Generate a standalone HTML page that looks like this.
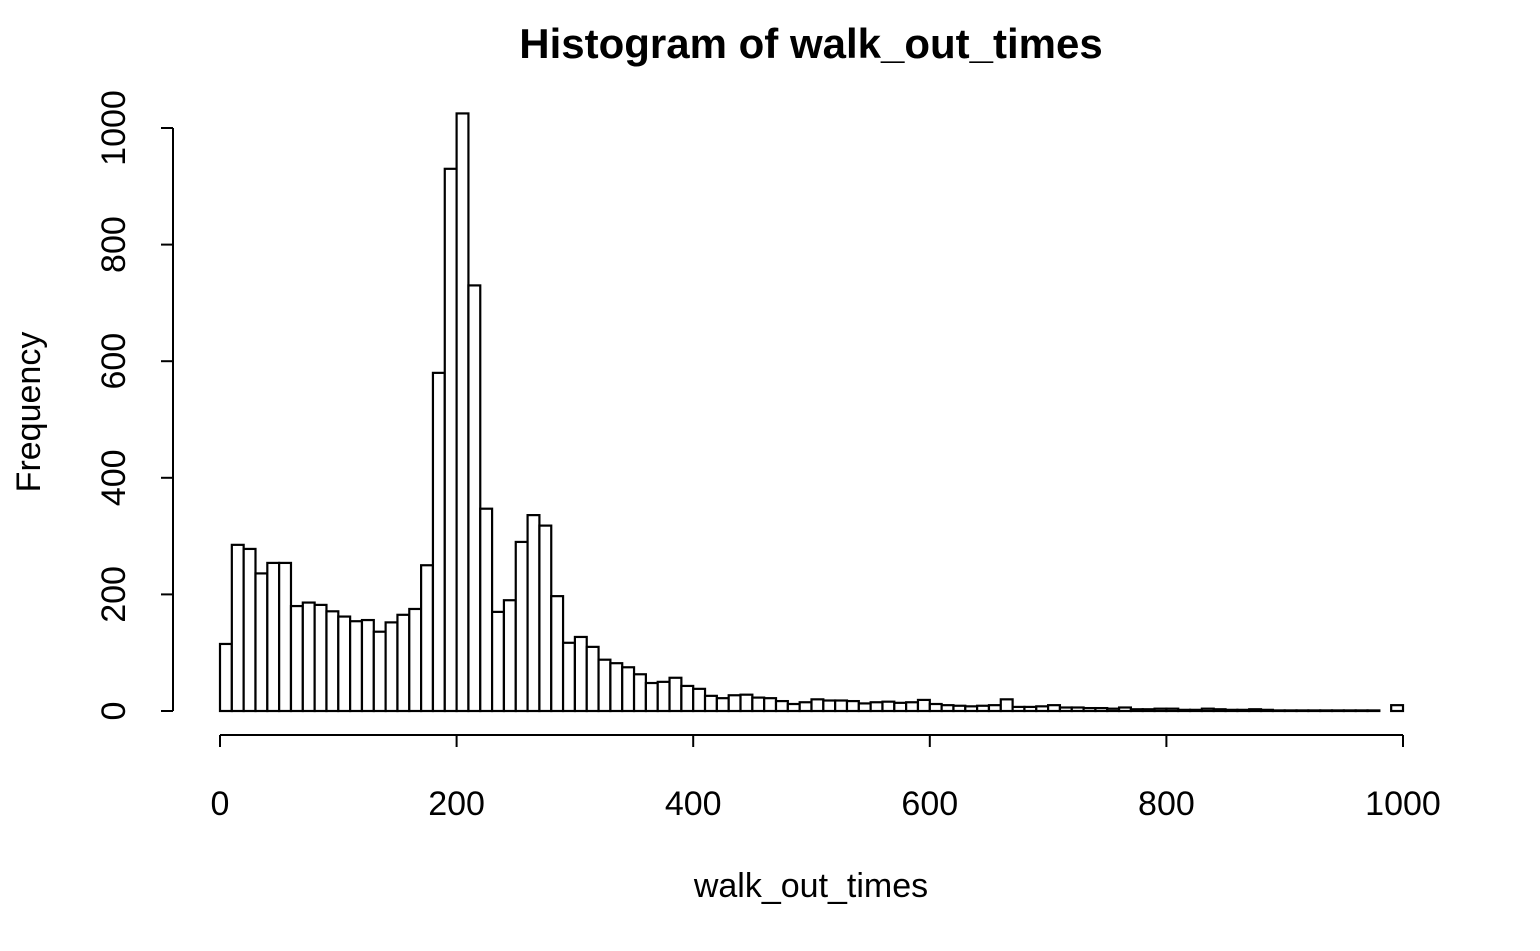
<!DOCTYPE html>
<html><head><meta charset="utf-8"><style>
body{margin:0;background:#fff}
svg{display:block;font-family:"Liberation Sans",Arial,sans-serif}
</style></head><body>
<svg id="c" width="1540" height="951">
<text x="811" y="58" text-anchor="middle" font-size="42" font-weight="bold">Histogram of walk_out_times</text>
<text x="811" y="897" text-anchor="middle" font-size="34">walk_out_times</text>
<text transform="translate(40,412) rotate(-90)" text-anchor="middle" font-size="34">Frequency</text>
<g id="bars"></g>
<g id="xaxis"></g>
<g id="yaxis"></g>
</svg>
<script>
const binStart = 0;
const binWidth = 10;
const counts = [115,285,278,236,254,254,180,186,182,171,
162,154,156,136,152,165,175,250,580,930,
1025,730,347,170,190,290,336,318,197,117,
127,110,88,82,75,63,48,50,57,43,
38,26,22,27,28,23,22,17,12,15,
20,18,18,17,13,15,16,14,15,19,
12,10,9,8,9,10,20,7,7,8,
10,6,6,5,5,4,6,3,3,4,
4,2,2,4,3,2,2,3,2,1,
1,1,1,1,1,1,1,1,0,10];
const xTicks = [0,200,400,600,800,1000];
const yTicks = [0,200,400,600,800,1000];
const NS = "http://www.w3.org/2000/svg";
const xs = v => 220 + (v - 0) * (1403 - 220) / 1000;
const ys = v => 711 - v * (711 - 128) / 1000;
function mk(tag, attrs, parent){const e=document.createElementNS(NS,tag);for(const k in attrs)e.setAttribute(k,attrs[k]);parent.appendChild(e);return e;}
const bars=document.getElementById('bars');
counts.forEach((c,i)=>{
  const x0=xs(binStart+i*binWidth), x1=xs(binStart+(i+1)*binWidth);
  const r=mk('rect',{x:x0,y:ys(c),width:x1-x0,height:ys(0)-ys(c),fill:'#fff',stroke:'#000','stroke-width':2.2},bars);
  
  
});
const xa=document.getElementById('xaxis');
mk('line',{x1:xs(xTicks[0]),x2:xs(xTicks[xTicks.length-1]),y1:735,y2:735,stroke:'#000','stroke-width':2},xa);
xTicks.forEach(t=>{
  mk('line',{x1:xs(t),x2:xs(t),y1:735,y2:747,stroke:'#000','stroke-width':2},xa);
  const tx=mk('text',{x:xs(t),y:815,'text-anchor':'middle','font-size':34},xa);
  tx.textContent=t;
  
  
});
const ya=document.getElementById('yaxis');
mk('line',{x1:173,x2:173,y1:ys(yTicks[0]),y2:ys(yTicks[yTicks.length-1]),stroke:'#000','stroke-width':2},ya);
yTicks.forEach(t=>{
  mk('line',{x1:161,x2:173,y1:ys(t),y2:ys(t),stroke:'#000','stroke-width':2},ya);
  const tx=mk('text',{transform:`translate(125,${ys(t)}) rotate(-90)`,'text-anchor':'middle','font-size':34},ya);
  tx.textContent=t;
  
  
});
</script>
</body></html>
